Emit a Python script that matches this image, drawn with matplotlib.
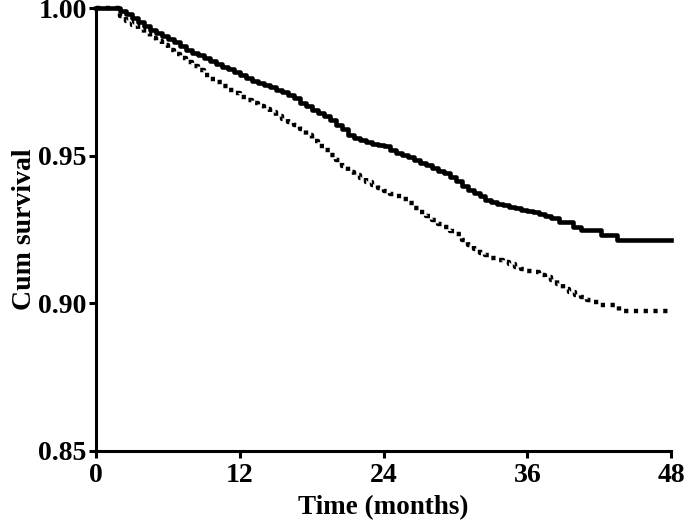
import matplotlib
matplotlib.use("Agg")
from matplotlib import pyplot as plt

# Kaplan-Meier estimates (months, cumulative survival)
t_solid = [0, 0.5, 1.0, 1.5, 2.0, 2.5, 3.0, 3.5, 4.0, 4.5, 5.0, 5.5, 6.0, 6.5, 7.0,
           7.5, 8.0, 8.5, 9.0, 9.5, 10.0, 10.5, 11.0, 11.5, 12.0, 12.5, 13.0, 13.5,
           14.0, 14.5, 15.0, 15.5, 16.0, 16.5, 17.0, 17.5, 18.0, 18.5, 19.0, 19.5,
           20.0, 20.5, 21.0, 21.5, 22.0, 22.5, 23.0, 23.5, 24.0, 24.5, 25.0, 25.5,
           26.0, 26.5, 27.0, 27.5, 28.0, 28.5, 29.0, 29.5, 30.0, 30.5, 31.0, 31.5,
           32.0, 32.5, 33.0, 33.5, 34.0, 34.5, 35.0, 35.5, 36.0, 36.5, 37.0, 37.5,
           38.0, 38.6, 39.8, 40.5, 42.1, 43.5, 48]
s_solid = [1.0, 1.0, 1.0, 1.0, 0.9992, 0.998, 0.9968, 0.9955, 0.9942, 0.9927, 0.9915,
           0.9905, 0.9895, 0.9885, 0.9872, 0.986, 0.985, 0.9842, 0.9832, 0.9822,
           0.9812, 0.9802, 0.9795, 0.9785, 0.9775, 0.9765, 0.9755, 0.9748, 0.974,
           0.9732, 0.9725, 0.9718, 0.9708, 0.9697, 0.968, 0.967, 0.9656, 0.9645,
           0.9635, 0.9622, 0.9605, 0.959, 0.9571, 0.9562, 0.9555, 0.9548, 0.9542,
           0.9538, 0.9532, 0.952, 0.951, 0.9503, 0.9495, 0.9485, 0.9476, 0.9468,
           0.946, 0.945, 0.9442, 0.943, 0.9415, 0.9398, 0.9385, 0.9375, 0.9365,
           0.9352, 0.9345, 0.9338, 0.9332, 0.9326, 0.9322, 0.9318, 0.9315, 0.931,
           0.9302, 0.9296, 0.929, 0.9277, 0.926, 0.9249, 0.9232, 0.9215, 0.9215]

t_dot = [0, 0.5, 1.0, 1.5, 2.0, 2.5, 3.0, 3.5, 4.0, 4.5, 5.0, 5.5, 6.0, 6.5, 7.0,
         7.5, 8.0, 8.5, 9.0, 9.5, 10.0, 10.5, 11.0, 11.5, 12.0, 12.5, 13.0, 13.5,
         14.0, 14.5, 15.0, 15.5, 16.0, 16.5, 17.0, 17.5, 18.0, 18.5, 19.0, 19.5,
         20.0, 20.5, 21.0, 21.5, 22.0, 22.5, 23.0, 23.5, 24.0, 24.5, 25.0, 25.5,
         26.0, 26.5, 27.0, 27.5, 28.0, 28.5, 29.0, 29.5, 30.0, 30.5, 31.0, 31.5,
         32.0, 32.5, 33.0, 33.5, 34.0, 34.5, 35.0, 35.5, 36.0, 36.5, 37.0, 37.5,
         38.0, 38.5, 39.0, 39.5, 40.0, 40.5, 41.0, 41.5, 42.0, 43.6, 48]
s_dot = [1.0, 1.0, 1.0, 1.0, 0.9975, 0.9958, 0.9944, 0.993, 0.9915, 0.990, 0.9888,
         0.9875, 0.986, 0.9847, 0.9833, 0.982, 0.9805, 0.979, 0.9775, 0.9762,
         0.975, 0.9737, 0.9725, 0.9712, 0.970, 0.969, 0.968, 0.967, 0.966, 0.9648,
         0.9636, 0.9625, 0.9615, 0.9605, 0.959, 0.957, 0.955, 0.9535, 0.952,
         0.9502, 0.9485, 0.9465, 0.9446, 0.9435, 0.9425, 0.9412, 0.940, 0.939,
         0.938, 0.9372, 0.9364, 0.9355, 0.934, 0.9325, 0.931, 0.9295, 0.9283,
         0.927, 0.9258, 0.9246, 0.9235, 0.9215, 0.9198, 0.9185, 0.9172, 0.9163,
         0.9155, 0.9148, 0.914, 0.9133, 0.9125, 0.9118, 0.911, 0.9105, 0.9097,
         0.909, 0.908, 0.9065, 0.905, 0.904, 0.903, 0.9022, 0.9012, 0.9004, 0.8995,
         0.8975, 0.8975]

x_ticks = [0, 12, 24, 36, 48]
y_ticks = [0.85, 0.90, 0.95, 1.00]

plt.rcParams['font.family'] = ['Liberation Serif', 'DejaVu Serif']
plt.rcParams['font.weight'] = 'bold'

fig = plt.figure(figsize=(6.85, 5.25), dpi=100)
ax = fig.add_axes([0.140, 0.141, 0.840, 0.843])

ax.plot(t_dot, s_dot, drawstyle='steps-post', color='black', lw=3.2,
        linestyle=(0, (0.95, 1.25)), dash_capstyle='butt', clip_on=False)
ax.plot(t_solid, s_solid, drawstyle='steps-post', color='black', lw=3.3,
        clip_on=False)

ax.set_xlim(0, 48)
ax.set_ylim(0.85, 1.00)
ax.set_xticks(x_ticks)
ax.set_xticklabels([str(v) for v in x_ticks])
ax.set_yticks(y_ticks)
ax.set_yticklabels(['%.2f' % v for v in y_ticks])

for side in ['top', 'right']:
    ax.spines[side].set_visible(False)
for side in ['left', 'bottom']:
    ax.spines[side].set_linewidth(2.2)

ax.tick_params(axis='both', direction='out', length=5, width=2.2,
               labelsize=20)
ax.tick_params(axis='x', pad=4)
ax.tick_params(axis='y', pad=1.5)
for lab in ax.get_xticklabels() + ax.get_yticklabels():
    lab.set_fontweight('bold')

ax.set_xlabel('Time (months)', fontsize=19.5, fontweight='bold', labelpad=5)
ax.set_ylabel('Cum survival', fontsize=20, fontweight='bold', labelpad=1)

fig.savefig('out.png', dpi=100)
